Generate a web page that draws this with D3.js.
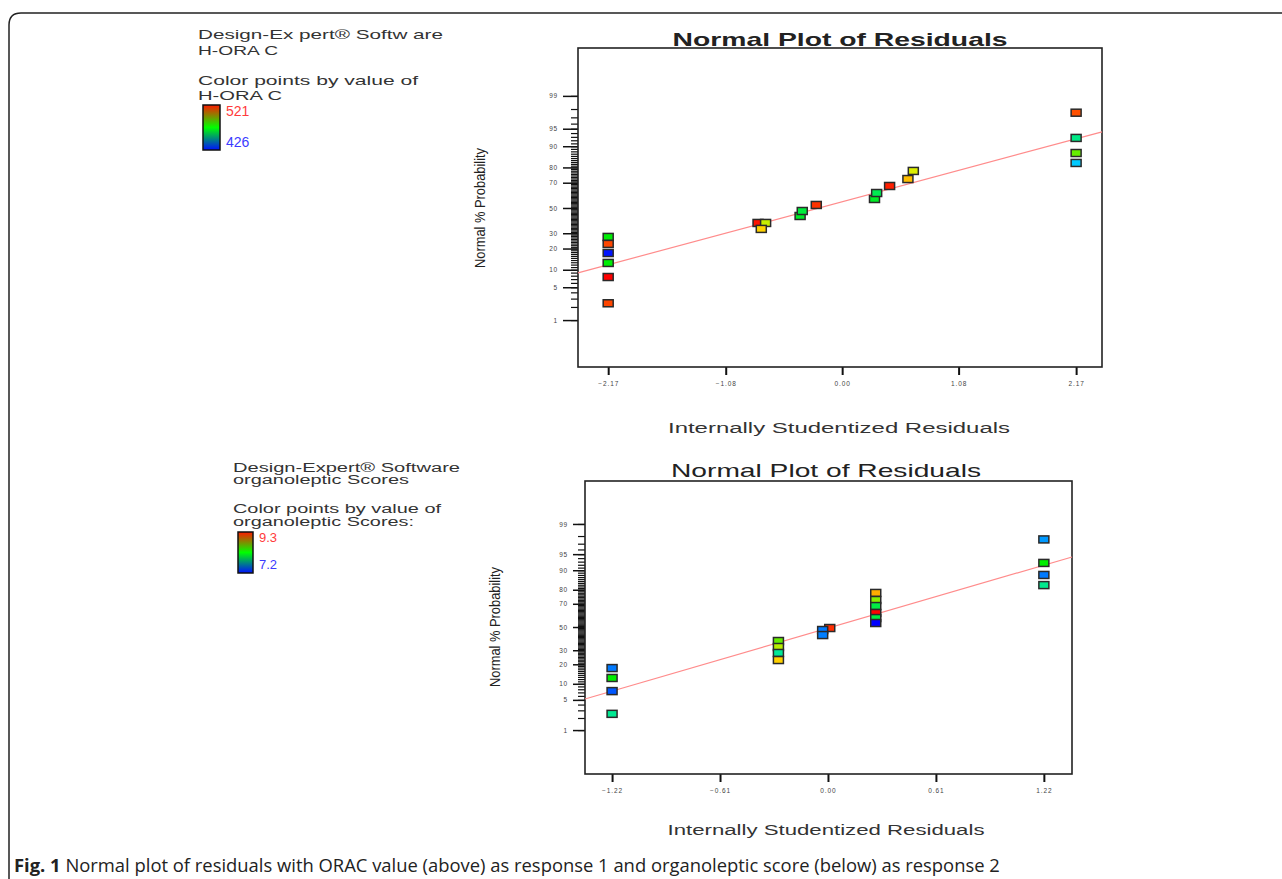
<!DOCTYPE html>
<html>
<head>
<meta charset="utf-8">
<script src="https://cdn.jsdelivr.net/npm/d3@7"></script>
<style>
  body { margin: 0; background: #fff; }
  svg { display: block; }
</style>
</head>
<body>
<div id="chart"></div>
<script>
// residuals (x), normal % probability (y) and response value (colour)
const topResid = [-2.17, -2.17, -2.17, -2.17, -2.17, -2.17, -0.78, -0.71, -0.75, -0.39, -0.37, -0.24, 0.30, 0.32, 0.44, 0.61, 0.66, 2.17, 2.17, 2.17, 2.17];
const topProb  = [27.4, 22.8, 17.5, 12.7, 7.6, 2.4, 37.8, 37.8, 33.2, 43.4, 47.5, 52.5, 57.4, 62.2, 67.6, 72.6, 77.9, 82.5, 87.3, 92.7, 97.6];
const topORAC  = [473, 514, 428, 473, 521, 514, 519, 492, 500, 470, 468, 516, 470, 466, 518, 502, 494, 447, 483, 461, 513];
const topRange = [426, 521];
const topFit   = {resid: [-2.45, 2.41], prob: [8.9, 94.3]};
const topXTicks = [-2.17, -1.08, 0, 1.08, 2.17];

const botResid = [-1.22, -1.22, -1.22, -1.22, -0.28, -0.28, -0.28, -0.28, 0.01, -0.03, -0.03, 0.27, 0.27, 0.27, 0.27, 0.27, 0.27, 1.22, 1.22, 1.22, 1.22];
const botProb  = [17.7, 12.5, 7.4, 2.5, 37.6, 32.6, 27.9, 22.8, 49.1, 47.3, 42.8, 77.9, 72.9, 68.2, 62.4, 58.0, 53.6, 97.6, 92.6, 88.0, 82.8];
const botScore = [7.48, 8.25, 7.40, 7.95, 8.46, 8.63, 7.94, 8.84, 9.2, 7.48, 7.49, 8.92, 8.53, 8.11, 9.3, 8.11, 7.2, 7.55, 8.25, 7.48, 7.96];
const botRange = [7.2, 9.3];
const botFit   = {resid: [-1.373, 1.379], prob: [5.2, 94.3]};
const botXTicks = [-1.22, -0.61, 0, 0.61, 1.22];

const probMajor = [1, 5, 10, 20, 30, 50, 70, 80, 90, 95, 99];
const probMinor = d3.range(1, 100);

const width = 1282, height = 879;

// inverse normal cdf (Acklam) for the probability axis
function probit(p) {
  const a = [-39.69683028665376, 220.9460984245205, -275.9285104469687, 138.3577518672690, -30.66479806614716, 2.506628277459239];
  const b = [-54.47609879822406, 161.5858368580409, -155.6989798598866, 66.80131188771972, -13.28068155288572];
  const c = [-0.007784894002430293, -0.3223964580411365, -2.400758277161838, -2.549732539343734, 4.374664141464968, 2.938163982698783];
  const d = [0.007784695709041462, 0.3224671290700398, 2.445134137142996, 3.754408161112166];
  const pl = 0.02425;
  let q, r;
  if (p < pl) {
    q = Math.sqrt(-2 * Math.log(p));
    return (((((c[0]*q+c[1])*q+c[2])*q+c[3])*q+c[4])*q+c[5]) / ((((d[0]*q+d[1])*q+d[2])*q+d[3])*q+1);
  }
  if (p <= 1 - pl) {
    q = p - 0.5; r = q * q;
    return (((((a[0]*r+a[1])*r+a[2])*r+a[3])*r+a[4])*r+a[5])*q / (((((b[0]*r+b[1])*r+b[2])*r+b[3])*r+b[4])*r+1);
  }
  q = Math.sqrt(-2 * Math.log(1 - p));
  return -(((((c[0]*q+c[1])*q+c[2])*q+c[3])*q+c[4])*q+c[5]) / ((((d[0]*q+d[1])*q+d[2])*q+d[3])*q+1);
}

const rainbow = d3.scaleLinear()
    .domain([0, 0.25, 0.5, 0.75, 1])
    .range(["#0000ff", "#00e5ff", "#00ee00", "#ffee00", "#ff0000"]);

const svg = d3.select("#chart").append("svg")
    .attr("width", width)
    .attr("height", height)
    .attr("viewBox", [0, 0, width, height])
    .attr("font-family", "'Liberation Sans', Arial, sans-serif");

const defs = svg.append("defs");
const grad = defs.append("linearGradient").attr("id", "bar").attr("x1", 0).attr("x2", 0).attr("y1", 0).attr("y2", 1);
grad.append("stop").attr("offset", "0%").attr("stop-color", "#ff1a00");
grad.append("stop").attr("offset", "50%").attr("stop-color", "#00ff00");
grad.append("stop").attr("offset", "100%").attr("stop-color", "#0010ff");

// outer frame
svg.append("path")
    .attr("d", "M9,885 V25 Q9,13 21,13 H1290")
    .attr("fill", "none")
    .attr("stroke", "#222")
    .attr("stroke-width", 1.5);

// stretched text helper (the figure is a horizontally stretched bitmap)
function label(g, txt, x, y, len, size, opt = {}) {
  const t = g.append("text")
      .attr("x", x).attr("y", y)
      .attr("font-size", size)
      .attr("fill", opt.fill || "#333")
      .attr("font-weight", opt.weight || null)
      .attr("text-anchor", opt.anchor || "start")
      .text(txt);
  if (len) t.attr("textLength", len).attr("lengthAdjust", "spacingAndGlyphs");
  if (opt.rotate) t.attr("transform", `rotate(-90,${x},${y})`);
  return t;
}

function panel(cfg) {
  const g = svg.append("g");
  const x = d3.scaleLinear(cfg.xDomain, [cfg.x0, cfg.x1]);
  const y = d3.scaleLinear(cfg.zDomain, [cfg.y1, cfg.y0]);
  const color = v => rainbow((v - cfg.range[0]) / (cfg.range[1] - cfg.range[0]));

  // minor probability ticks
  g.append("g")
      .attr("transform", `translate(${cfg.x0},0)`)
      .call(d3.axisLeft(y).tickValues(probMinor.map(p => probit(p / 100))).tickSize(7).tickFormat(""))
      .call(a => a.select(".domain").remove())
      .call(a => a.selectAll(".tick line").attr("stroke", "#111").attr("stroke-width", 1.2));

  // major probability ticks
  g.append("g")
      .attr("transform", `translate(${cfg.x0},0)`)
      .call(d3.axisLeft(y).tickValues(probMajor.map(p => probit(p / 100))).tickSize(cfg.major).tickPadding(5)
        .tickFormat((d, i) => probMajor[i]))
      .call(a => a.select(".domain").remove())
      .call(a => a.selectAll(".tick line").attr("stroke", "#111").attr("stroke-width", 1.5))
      .call(a => a.selectAll(".tick text").attr("font-size", 6.5).attr("fill", "#444").attr("letter-spacing", 0.8));

  // x ticks
  g.append("g")
      .attr("transform", `translate(0,${cfg.y1})`)
      .call(d3.axisBottom(x).tickValues(cfg.xTicks).tickSize(8).tickPadding(6).tickFormat(d3.format(".2f")))
      .call(a => a.select(".domain").remove())
      .call(a => a.selectAll(".tick line").attr("stroke", "#111").attr("stroke-width", 2))
      .call(a => a.selectAll(".tick text").attr("font-size", 6.5).attr("fill", "#444").attr("letter-spacing", 0.9));

  // plot box
  g.append("rect")
      .attr("x", cfg.x0).attr("y", cfg.y0)
      .attr("width", cfg.x1 - cfg.x0).attr("height", cfg.y1 - cfg.y0)
      .attr("fill", "none").attr("stroke", "#222").attr("stroke-width", 1.6);

  // fitted normal line
  g.append("line")
      .attr("x1", x(cfg.fit.resid[0])).attr("y1", y(probit(cfg.fit.prob[0] / 100)))
      .attr("x2", x(cfg.fit.resid[1])).attr("y2", y(probit(cfg.fit.prob[1] / 100)))
      .attr("stroke", "#ff8c8c").attr("stroke-width", 1.2);

  // points
  g.append("g")
    .selectAll("rect")
    .data(d3.range(cfg.resid.length))
    .join("rect")
      .attr("x", i => x(cfg.resid[i]) - 5)
      .attr("y", i => y(probit(cfg.prob[i] / 100)) - 3.5)
      .attr("width", 10).attr("height", 7)
      .attr("fill", i => color(cfg.val[i]))
      .attr("stroke", "#2a2a2a").attr("stroke-width", 1.5);

  // titles
  label(g, "Normal Plot of Residuals", cfg.titleX, cfg.titleY, cfg.titleLen, 19, {anchor: "middle", fill: "#222", weight: cfg.titleWeight});
  label(g, "Internally Studentized Residuals", cfg.xlabX, cfg.xlabY, cfg.xlabLen, 14, {anchor: "middle", fill: "#333"});
  label(g, "Normal % Probability", cfg.ylabX, cfg.ylabY, 120, 15, {anchor: "middle", fill: "#222", rotate: true});

  // legend
  const L = cfg.legend;
  L.lines.forEach((s, i) => label(g, s[0], L.x, L.base[i], s[1], L.size));
  g.append("rect")
      .attr("x", L.bar[0]).attr("y", L.bar[1]).attr("width", L.bar[2]).attr("height", L.bar[3])
      .attr("fill", "url(#bar)").attr("stroke", "#111").attr("stroke-width", 1.5);
  label(g, L.hi, L.bar[0] + L.bar[2] + 6, L.numBase[0], null, L.size + 1, {fill: "#ff3b3b"});
  label(g, L.lo, L.bar[0] + L.bar[2] + 6, L.numBase[1], null, L.size + 1, {fill: "#3b3bff"});
}

panel({
  x0: 578, x1: 1102, y0: 48, y1: 367,
  xDomain: [-2.45, 2.41], zDomain: [-3.30, 3.32], major: 15,
  xTicks: topXTicks, resid: topResid, prob: topProb, val: topORAC, range: topRange, fit: topFit,
  titleX: 840, titleY: 46, titleLen: 335, titleWeight: "bold",
  xlabX: 839, xlabY: 433, xlabLen: 342,
  ylabX: 485, ylabY: 208,
  legend: {
    x: 198, size: 13, base: [39, 55, 85, 100],
    lines: [["Design-Ex pert® Softw are", 245], ["H-ORA C", 80], ["Color points by value of", 220], ["H-ORA C", 84]],
    bar: [203, 105, 17, 45], hi: "521", lo: "426", numBase: [116, 147]
  }
});

panel({
  x0: 585, x1: 1072, y0: 481, y1: 774,
  xDomain: [-1.373, 1.379], zDomain: [-3.318, 3.296], major: 12,
  xTicks: botXTicks, resid: botResid, prob: botProb, val: botScore, range: botRange, fit: botFit,
  titleX: 826, titleY: 477, titleLen: 310, titleWeight: null,
  xlabX: 826, xlabY: 835, xlabLen: 317,
  ylabX: 500, ylabY: 627,
  legend: {
    x: 233, size: 12, base: [472, 484, 513, 526],
    lines: [["Design-Expert® Software", 227], ["organoleptic Scores", 176], ["Color points by value of", 208], ["organoleptic Scores:", 181]],
    bar: [238, 532, 15, 41], hi: "9.3", lo: "7.2", numBase: [542, 569]
  }
});

// caption
const cap = svg.append("text")
    .attr("x", 14).attr("y", 872)
    .attr("font-family", "'Open Sans', 'Noto Sans', sans-serif")
    .attr("font-size", 18.4)
    .attr("fill", "#222");
cap.append("tspan").attr("font-weight", "bold").text("Fig. 1");
cap.append("tspan").text(" Normal plot of residuals with ORAC value (above) as response 1 and organoleptic score (below) as response 2");
</script>
</body>
</html>
